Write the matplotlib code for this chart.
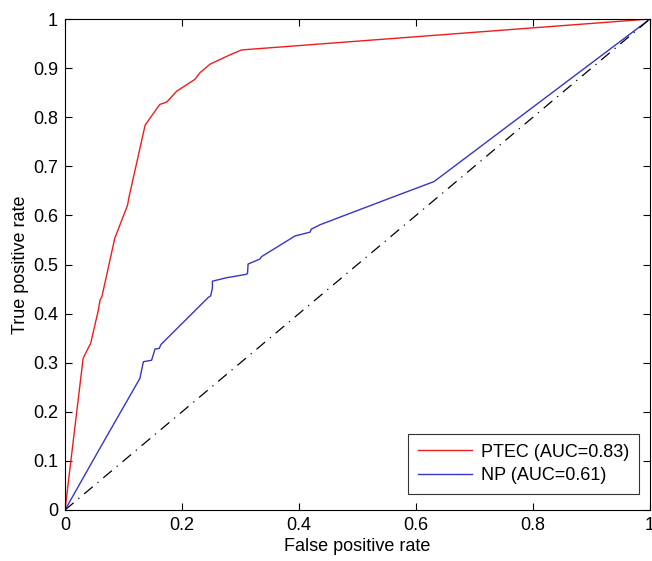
import matplotlib
matplotlib.use("Agg")
import matplotlib.pyplot as plt

# ROC curves (false positive rate, true positive rate)
ptec_fpr = [0.0, 0.031, 0.044, 0.057, 0.060, 0.063, 0.085, 0.107, 0.109, 0.137,
            0.162, 0.174, 0.191, 0.222, 0.231, 0.248, 0.282, 0.302, 1.0]
ptec_tpr = [0.0, 0.309, 0.340, 0.407, 0.428, 0.434, 0.553, 0.621, 0.635, 0.784,
            0.826, 0.831, 0.853, 0.877, 0.891, 0.908, 0.927, 0.937, 1.0]

np_fpr = [0.0, 0.066, 0.128, 0.134, 0.148, 0.154, 0.161, 0.164, 0.245, 0.249,
          0.252, 0.252, 0.276, 0.310, 0.312, 0.313, 0.333, 0.336, 0.393, 0.419,
          0.421, 0.436, 0.553, 0.631, 1.0]
np_tpr = [0.0, 0.139, 0.268, 0.302, 0.305, 0.328, 0.329, 0.337, 0.433, 0.436,
          0.452, 0.466, 0.473, 0.480, 0.482, 0.501, 0.511, 0.516, 0.558, 0.566,
          0.572, 0.581, 0.634, 0.669, 1.0]

chance = [0.0, 1.0]
labels = ["PTEC (AUC=0.83)", "NP (AUC=0.61)"]

plt.rcParams["font.family"] = ["Liberation Sans", "DejaVu Sans"]
fs = 13

fig = plt.figure(figsize=(6.52, 5.61), dpi=100)
ax = fig.add_axes([65 / 652, 51 / 561, 585 / 652, 491 / 561])

ax.plot(ptec_fpr, ptec_tpr, color="#ee1c1c", lw=1.0, label=labels[0])
ax.plot(np_fpr, np_tpr, color="#3535c8", lw=1.0, label=labels[1])
ax.plot(chance, chance, color="black", lw=0.9, ls=(0, (9, 5, 1, 5)))

ax.set_xlim(0, 1)
ax.set_ylim(0, 1)
ax.set_xticks([0, 0.2, 0.4, 0.6, 0.8, 1])
ax.set_xticklabels(["0", "0.2", "0.4", "0.6", "0.8", "1"])
yt = [i / 10 for i in range(11)]
ax.set_yticks(yt)
ax.set_yticklabels(["0"] + [f"{v:.1f}" for v in yt[1:-1]] + ["1"])
ax.tick_params(direction="in", top=True, right=True, length=5, width=0.8,
               labelsize=fs, pad=5)
for s in ax.spines.values():
    s.set_linewidth(0.8)

ax.set_xlabel("False positive rate", fontsize=fs, labelpad=3)
ax.set_ylabel("True positive rate", fontsize=fs, labelpad=3)

leg = ax.legend(loc="lower right", bbox_to_anchor=(0.981, 0.033), borderaxespad=0,
                fontsize=fs, frameon=True, fancybox=False, edgecolor="black",
                handlelength=3.0, borderpad=0.55, labelspacing=0.35,
                handletextpad=0.5)
leg.get_frame().set_linewidth(0.8)

fig.savefig("out.png", dpi=100)
